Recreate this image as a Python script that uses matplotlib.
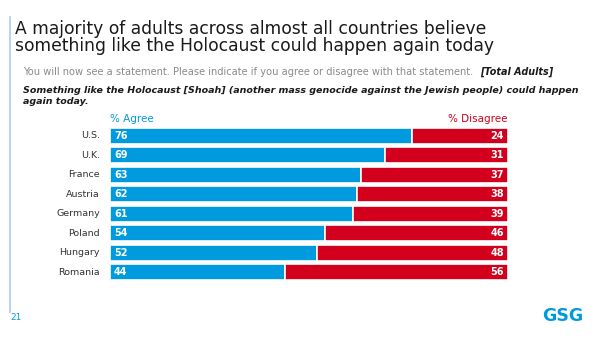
import numpy as np
import matplotlib.pyplot as plt

plt.rcParams["font.family"] = ["DejaVu Sans"]

countries = ["U.S.", "U.K.", "France", "Austria", "Germany", "Poland", "Hungary", "Romania"]
agree = [76, 69, 63, 62, 61, 54, 52, 44]
disagree = [24, 31, 37, 38, 39, 46, 48, 56]

blue = "#009ADE"
red = "#D2001C"

fig = plt.figure(figsize=(6, 3.38), dpi=100)
fig.patch.set_facecolor("white")

# slide decoration
fig.add_artist(plt.Line2D([10 / 600, 10 / 600], [1 - 17 / 338, 1 - 312 / 338],
                          color="#A9CCEF", lw=1.2))
fig.text(15 / 600, 1 - 37.5 / 338,
         "A majority of adults across almost all countries believe\n"
         "something like the Holocaust could happen again today",
         fontsize=12.3, color="#1A1A1A", va="center", ha="left", linespacing=0.98)
fig.text(23 / 600, 1 - 72 / 338,
         "You will now see a statement. Please indicate if you agree or disagree with that statement.",
         fontsize=7.1, color="#8A8A8A", va="center", ha="left")
fig.text(553 / 600, 1 - 72 / 338, "[Total Adults]", fontsize=6.9, color="#1A1A1A",
         style="italic", weight="bold", va="center", ha="right")
fig.text(23 / 600, 1 - 96 / 338,
         "Something like the Holocaust [Shoah] (another mass genocide against the Jewish people) could happen\n"
         "again today.",
         fontsize=6.8, color="#1A1A1A", style="italic", weight="bold", va="center", ha="left",
         linespacing=1.2)
fig.text(10 / 600, 1 - 317 / 338, "21", fontsize=6.5, color=blue, va="center", ha="left")
fig.text(583 / 600, 1 - 316 / 338, "GSG", fontsize=12.5, color=blue, weight="bold",
         va="center", ha="right")

ax = fig.add_axes([110 / 600, 1 - 282 / 338, 398 / 600, 156 / 338])
y = np.arange(len(countries))
ax.barh(y, agree, height=0.82, color=blue, edgecolor="white", linewidth=1.2)
ax.barh(y, disagree, left=agree, height=0.82, color=red, edgecolor="white", linewidth=1.2)

for i in range(len(countries)):
    ax.text(1.0, y[i], str(agree[i]), color="white", weight="bold", fontsize=7,
            va="center", ha="left")
    ax.text(99.0, y[i], str(disagree[i]), color="white", weight="bold", fontsize=7,
            va="center", ha="right")
    ax.text(-2.5, y[i], countries[i], color="#333333", fontsize=6.8,
            va="center", ha="right")

ax.text(0, -0.85, "% Agree", color=blue, fontsize=7.5, va="center", ha="left")
ax.text(100, -0.85, "% Disagree", color=red, fontsize=7.5, va="center", ha="right")

ax.set_xlim(0, 100)
ax.set_ylim(len(countries) - 0.5, -0.5)
ax.axis("off")

fig.savefig("out.png", dpi=100)
